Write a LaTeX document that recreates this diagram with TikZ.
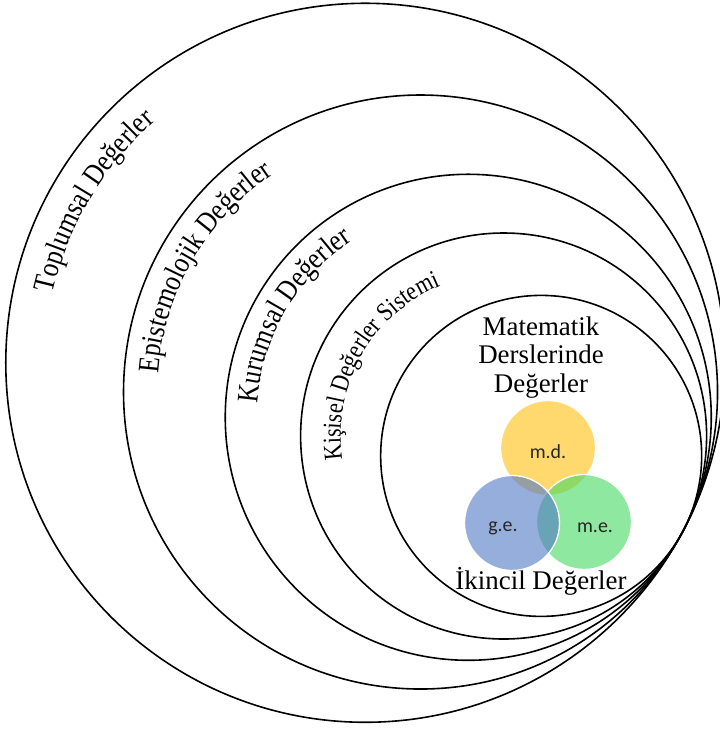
\documentclass[tikz,border=0pt]{standalone}
\usepackage{fontspec}
\setmainfont{Liberation Serif}
\newfontfamily\warpfont[FakeStretch=0.85]{Liberation Serif}
\newfontfamily\vennfont{Carlito}
\usetikzlibrary{calc,decorations.text}

\definecolor{vyellow}{RGB}{255,192,13}
\definecolor{vblue}{RGB}{80,120,197}
\definecolor{vgreen}{RGB}{67,217,97}

\begin{document}
\begin{tikzpicture}[
  x=1bp, y=1bp,
  ring/.style={draw, circle, line width=1.6bp, inner sep=0pt, outer sep=0pt},
  ringtext/.style 2 args={decorate,
                 decoration={text along path, text align=center,
                             text={|\warpfont\fontsize{#1}{#1}\selectfont|#2}}},
  venn/.style={circle, draw=white, line width=1.3bp, fill opacity=0.6,
               inner sep=0pt, minimum size=95bp},
  vennlabel/.style={font=\vennfont\fontsize{20}{24}\selectfont, text=black!85},
  title/.style={font=\fontsize{27}{28.75}\selectfont, align=center},
]
\useasboundingbox (0,0) rectangle (720,729);

% ── point where all rings touch ───────────────────────────────────────────────
\coordinate (T) at (683,198);

% ── rings ─────────────────────────────────────────────────────────────────────
\foreach \rad/\name in {359.5/toplumsal, 297/epist, 243/kurumsal,
                        203/kisisel, 160.5/matematik}
  \node[ring, minimum size={2bp*\rad}] (\name) at ($(T)+(152.1:\rad)$) {};

% ── ring labels ───────────────────────────────────────────────────────────────
\path[ringtext={30}{Toplumsal Değerler}]
  ([shift={(199.25:320)}]toplumsal.center) arc[start angle=199.25, end angle=99.25, radius=320];
\path[ringtext={30}{Epistemolojik Değerler}]
  ([shift={(200:263)}]epist.center) arc[start angle=200, end angle=100, radius=263];
\path[ringtext={30}{Kurumsal Değerler}]
  ([shift={(199.75:211)}]kurumsal.center) arc[start angle=199.75, end angle=99.75, radius=211];
\path[ringtext={26}{Kişisel Değerler Sistemi}]
  ([shift={(200.5:163)}]kisisel.center) arc[start angle=200.5, end angle=100.5, radius=163];

% ── inner texts ───────────────────────────────────────────────────────────────
\node[title] (mtitle) at (541,371.5) {Matematik\\Derslerinde\\Değerler};
\node[title, anchor=base] (ikincil) at (541,139) {İkincil Değerler};

% ── venn ──────────────────────────────────────────────────────────────────────
\node[venn, fill=vyellow] (md) at (548,281) {};
\node[venn, fill=vgreen] (me) at (584,207) {};
\node[venn, fill=vblue] (ge) at (512,206) {};

\node[vennlabel] (mdtext) at ([yshift=-4bp]md.center) {m.d.};
\node[vennlabel] (getext) at ([xshift=-9bp, yshift=-5bp]ge.center) {g.e.};
\node[vennlabel] (metext) at ([xshift=11bp, yshift=-6bp]me.center) {m.e.};

\end{tikzpicture}
\end{document}
